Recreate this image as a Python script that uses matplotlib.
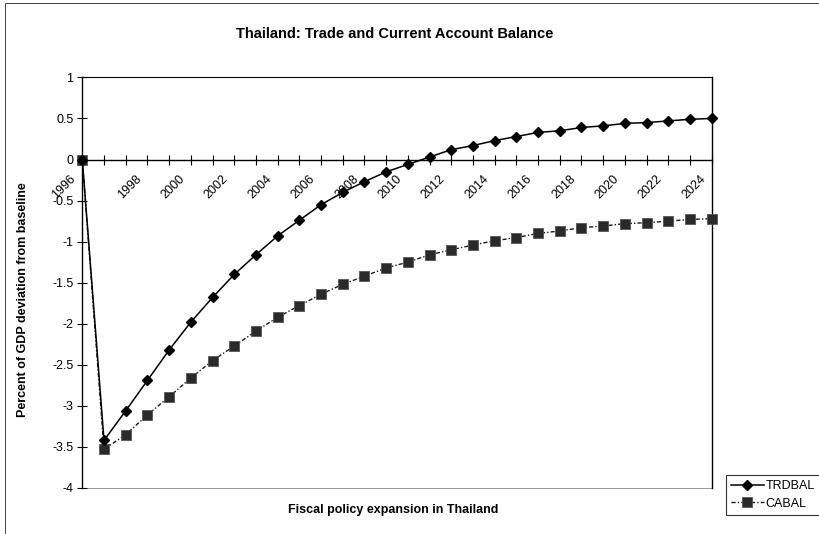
import matplotlib
matplotlib.use("Agg")
import matplotlib.pyplot as plt
import matplotlib.transforms as mtransforms
from matplotlib.patches import Rectangle

plt.rcParams["font.family"] = ["Liberation Sans", "DejaVu Sans"]

# simulation years (one point per year)
years = list(range(1996, 2026))

# percent of GDP deviation from baseline
trdbal = [0.0, -3.42, -3.06, -2.69, -2.32, -1.98, -1.68, -1.40, -1.16, -0.93,
          -0.74, -0.55, -0.40, -0.27, -0.15, -0.06, 0.03, 0.12, 0.17, 0.23,
          0.28, 0.33, 0.35, 0.39, 0.41, 0.44, 0.45, 0.47, 0.49, 0.50]
cabal = [0.0, -3.53, -3.35, -3.11, -2.89, -2.66, -2.45, -2.27, -2.09, -1.92,
         -1.78, -1.64, -1.52, -1.42, -1.32, -1.25, -1.16, -1.10, -1.04, -0.99,
         -0.95, -0.90, -0.87, -0.83, -0.81, -0.78, -0.77, -0.75, -0.73, -0.72]

yticks = [1, 0.5, 0, -0.5, -1, -1.5, -2, -2.5, -3, -3.5, -4]
xtick_years = list(range(1996, 2025, 2))

fig = plt.figure(figsize=(8.19, 5.34), dpi=100)
ax = fig.add_axes([82.3 / 819, 1 - 488 / 534, (711.7 - 82.3) / 819, (488 - 77.4) / 534])

ax.plot(years, trdbal, color="black", lw=1.1, marker="D", ms=5.5,
        label="TRDBAL", clip_on=False, zorder=4)
ax.plot(years, cabal, color="#1a1a1a", lw=1.0, ls=(0, (3, 1.5, 1, 1.5)),
        marker="s", ms=6.5, mfc="#2a2a2a", mec="#555555", mew=0.6,
        label="CABAL", clip_on=False, zorder=3)

ax.set_xlim(years[0], years[-1])
ax.set_ylim(-4, 1)

# category axis sits on the zero line
ax.spines["bottom"].set_position(("data", 0))
ax.spines["bottom"].set_linewidth(1.0)
ax.spines["left"].set_linewidth(1.0)
ax.spines["top"].set_linewidth(0.8)
ax.spines["right"].set_linewidth(1.0)
ax.add_patch(Rectangle((0, 0), 1, 0.001, transform=ax.transAxes,
                       color="#888888", lw=0.6, fill=False, clip_on=False))

ax.set_xticks(years, minor=True)
ax.set_xticks(xtick_years)
ax.set_xticklabels([str(y) for y in xtick_years], rotation=45,
                   ha="center", va="top", fontsize=9)
ax.tick_params(axis="x", which="both", direction="inout", length=7, width=0.8, pad=4)
ax.tick_params(axis="x", which="major", pad=6)

offset = mtransforms.ScaledTranslation(4 / 100, 0, fig.dpi_scale_trans)
for lbl in ax.get_xticklabels():
    lbl.set_transform(lbl.get_transform() + offset)
first = ax.get_xticklabels()[0]
first.set_transform(first.get_transform()
                    + mtransforms.ScaledTranslation(-22 / 100, 0, fig.dpi_scale_trans))

ax.set_yticks(yticks)
ax.set_yticklabels([f"{v:g}" for v in yticks], fontsize=9)
ax.tick_params(axis="y", direction="inout", length=7, width=0.8, pad=3)

fig.text(395 / 819, 1 - 34 / 534, "Thailand: Trade and Current Account Balance",
         ha="center", va="center", fontsize=10.5, fontweight="bold")
fig.text(393 / 819, 1 - 510 / 534, "Fiscal policy expansion in Thailand",
         ha="center", va="center", fontsize=9, fontweight="bold")
fig.text(23 / 819, 1 - 300 / 534, "Percent of GDP deviation from baseline",
         ha="center", va="center", rotation=90, fontsize=9, fontweight="bold")

leg = fig.legend(loc="upper left", bbox_to_anchor=(726 / 819, 1 - 475 / 534),
                 frameon=True, fancybox=False, edgecolor="black", fontsize=9,
                 handlelength=2.6, handletextpad=0.15, borderpad=0.4,
                 labelspacing=0.45, borderaxespad=0)
leg.get_frame().set_linewidth(0.8)

# outer chart frame
fig.add_artist(Rectangle((5 / 819, -0.05), 1.1, 1 - 3 / 534 + 0.05,
                         transform=fig.transFigure, fill=False,
                         edgecolor="#444444", lw=0.7))

fig.savefig("out.png", dpi=100)
